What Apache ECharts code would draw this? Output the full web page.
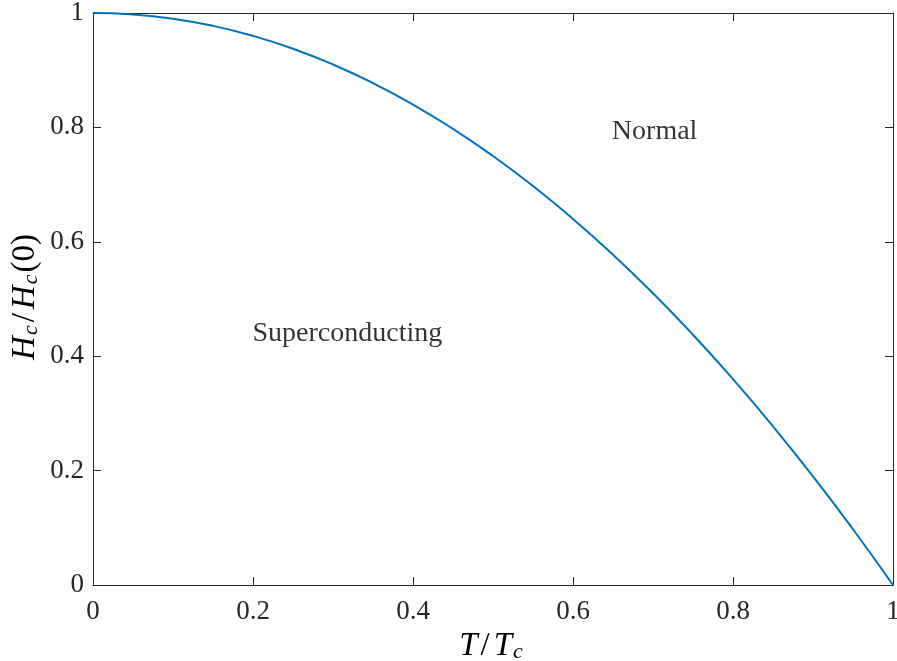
<!DOCTYPE html>
<html><head><meta charset="utf-8">
<script src="https://cdn.jsdelivr.net/npm/echarts@6/dist/echarts.min.js"></script>
<style>html,body{margin:0;padding:0;background:#fff}#c{width:897px;height:661px}</style>
</head><body><div id="c"></div>
<script>
const tValues = [0,0.05,0.1,0.15,0.2,0.25,0.3,0.35,0.4,0.45,0.5,0.55,0.6,0.65,0.7,0.75,0.8,0.85,0.9,0.95,1];
const hValues = [1,0.9975,0.99,0.9775,0.96,0.9375,0.91,0.8775,0.84,0.7975,0.75,0.6975,0.64,0.5775,0.51,0.4375,0.36,0.2775,0.19,0.0975,0];
const regionLabels = ['Normal','Superconducting'];
const regionAt = [[0.702,0.793],[0.318,0.44]];

const FONT = 'Liberation Serif';
const chart = echarts.init(document.getElementById('c'));
const axisCol = '#262626';
function axisBase(){
  return {
    min:0, max:1, interval:0.2,
    splitLine:{show:false},
    axisLine:{show:true, onZero:false, lineStyle:{color:axisCol, width:1}},
    axisTick:{show:true, inside:true, length:8, lineStyle:{color:axisCol}}
  };
}
const rich = {
  i:{fontFamily:FONT, fontStyle:'italic', fontSize:33, color:'#262626'},
  n:{fontFamily:FONT, fontSize:33, color:'#262626', padding:[0,4,0,3]},
  p:{fontFamily:FONT, fontSize:33, color:'#262626', padding:[0,0,0,2]},
  s:{fontFamily:FONT, fontStyle:'italic', fontSize:22, color:'#262626', padding:[13,0,0,1]}
};
chart.setOption({
  animation:false,
  grid:{left:93, right:4, top:13, bottom:76, outerBoundsMode:'none', containLabel:false},
  xAxis:[
    Object.assign(axisBase(), {type:'value', position:'bottom',
      axisLabel:{fontFamily:FONT, fontSize:27, color:'#262626', margin:13}}),
    Object.assign(axisBase(), {type:'value', position:'top', axisLabel:{show:false}})
  ],
  yAxis:[
    Object.assign(axisBase(), {type:'value', position:'left',
      axisLabel:{fontFamily:FONT, fontSize:27, color:'#262626', margin:9}}),
    Object.assign(axisBase(), {type:'value', position:'right', axisLabel:{show:false}})
  ],
  series:[{
    type:'line', xAxisIndex:0, yAxisIndex:0, smooth:true, showSymbol:false,
    data: tValues.map((t,i)=>[t,hValues[i]]),
    lineStyle:{color:'#0072BD', width:2}
  },{
    type:'scatter', symbolSize:0, silent:true,
    data: regionAt.map((p,i)=>({value:p, label:{show:true, formatter:regionLabels[i], position:'inside', fontFamily:FONT, fontSize:28, color:'#000'}}))
  }],
  graphic:[{
    type:'text', x:491, y:646,
    style:{ text:'{i|T}{n|/}{i|T}{s|c}', rich:rich, align:'center', verticalAlign:'middle' }
  },{
    type:'text', x:25, y:297, rotation:Math.PI/2,
    style:{ text:'{i|H}{s|c}{n|/}{i|H}{s|c}{p|(0)}', rich:rich, align:'center', verticalAlign:'middle' }
  }]
});
</script></body></html>
